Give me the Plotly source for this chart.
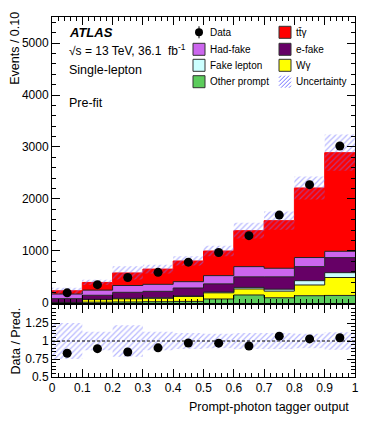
import numpy as np
import plotly.graph_objects as go
from plotly.subplots import make_subplots

# bins of the prompt-photon tagger output
bin_edges = [0.0, 0.1, 0.2, 0.3, 0.4, 0.5, 0.6, 0.7, 0.8, 0.9, 1.0]
bin_centers = [0.05, 0.15, 0.25, 0.35, 0.45, 0.55, 0.65, 0.75, 0.85, 0.95]

# stacked predictions (bottom to top)
other_prompt = [5, 15, 20, 25, 30, 77, 154, 100, 140, 145]
w_gamma = [3, 50, 60, 65, 95, 118, 116, 128, 206, 345]
fake_lepton = [4, 7, 10, 10, 10, 15, 30, 37, 83, 93]
e_fake = [71, 76, 115, 124, 153, 158, 203, 238, 270, 289]
had_fake = [89, 99, 131, 135, 122, 158, 196, 165, 175, 122]
ttgamma = [63, 148, 242, 293, 398, 474, 692, 915, 1338, 1897]

data = [195, 353, 490, 590, 785, 970, 1295, 1690, 2276, 3020]
rel_unc = [0.25, 0.13, 0.22, 0.13, 0.11, 0.10, 0.11, 0.11, 0.10, 0.12]

stack_names = ['Other prompt', 'Wγ', 'Fake lepton', 'e-fake', 'Had-fake', 'tt̄γ']
stack_values = [other_prompt, w_gamma, fake_lepton, e_fake, had_fake, ttgamma]
stack_colors = ['#5ccc5c', '#ffff00', '#ccffff', '#660066', '#cc66ee', '#ff0000']

y_ticks = [0, 1000, 2000, 3000, 4000, 5000]
ratio_ticks = [0.5, 0.75, 1, 1.25]
ratio_ticktext = ['0.5', '0.75', '1', '1.25']
x_ticks = [0, 0.1, 0.2, 0.3, 0.4, 0.5, 0.6, 0.7, 0.8, 0.9, 1]
x_ticktext = ['0', '0.1', '0.2', '0.3', '0.4', '0.5', '0.6', '0.7', '0.8', '0.9', '1']

FONT = 'Liberation Sans'
HATCH = '#6f6fff'
W, H = 374, 421
# the page body has an 8px margin, so the margins are shifted by it
PAGE_OFF = 8
PL, PR, PT, PB = 52, 355, 17, 377   # plot box in page pixels
ML, MT = PL - PAGE_OFF, PT - PAGE_OFF
MR, MB = W - (PR - PAGE_OFF), H - (PB - PAGE_OFF)


def step(vals):
    # repeat last value so 'hv' line reaches the right edge
    v = list(vals)
    return v + [v[-1]]


def px2paper(x, y):
    return (x - PL) / (PR - PL), (PB - y) / (PB - PT)


fig = make_subplots(rows=2, cols=1, shared_xaxes=True)

# === stacked histograms ===
cum = np.cumsum(np.array(stack_values), axis=0)
for i, (name, color) in enumerate(zip(stack_names, stack_colors)):
    fig.add_trace(go.Scatter(
        x=bin_edges, y=step(cum[i]), mode='lines', line_shape='hv',
        line=dict(color=color if i == len(stack_names) - 1 else '#222222', width=1),
        fill='tozeroy' if i == 0 else 'tonexty', fillcolor=color,
        name=name, showlegend=False, hoverinfo='skip'
    ), row=1, col=1)

total = cum[-1]
unc = np.array(rel_unc)
hatch = dict(shape='/', fgcolor=HATCH, bgcolor='rgba(0,0,0,0)', size=4, solidity=0.3)

# === uncertainty band (main) ===
fig.add_trace(go.Scatter(
    x=bin_edges, y=step(total * (1 - unc)), mode='lines', line_shape='hv',
    line=dict(width=0), showlegend=False, hoverinfo='skip'
), row=1, col=1)
fig.add_trace(go.Scatter(
    x=bin_edges, y=step(total * (1 + unc)), mode='lines', line_shape='hv',
    line=dict(width=0), fill='tonexty', fillcolor='rgba(0,0,0,0)', fillpattern=hatch,
    showlegend=False, hoverinfo='skip'
), row=1, col=1)

# === data ===
fig.add_trace(go.Scatter(
    x=bin_centers, y=data, mode='markers',
    marker=dict(color='black', size=9), showlegend=False
), row=1, col=1)

# === ratio panel ===
fig.add_trace(go.Scatter(
    x=bin_edges, y=step(1 - unc), mode='lines', line_shape='hv',
    line=dict(width=0), showlegend=False, hoverinfo='skip'
), row=2, col=1)
fig.add_trace(go.Scatter(
    x=bin_edges, y=step(1 + unc), mode='lines', line_shape='hv',
    line=dict(width=0), fill='tonexty', fillcolor='rgba(0,0,0,0)', fillpattern=hatch,
    showlegend=False, hoverinfo='skip'
), row=2, col=1)
fig.add_trace(go.Scatter(
    x=[bin_edges[0], bin_edges[-1]], y=[1, 1], mode='lines',
    line=dict(color='black', width=1, dash='3px,2px'), showlegend=False, hoverinfo='skip'
), row=2, col=1)
fig.add_trace(go.Scatter(
    x=bin_centers, y=np.array(data) / total, mode='markers',
    marker=dict(color='black', size=9), showlegend=False
), row=2, col=1)

# === axes ===
axis_common = dict(
    showline=True, linecolor='black', linewidth=1, mirror='allticks',
    ticks='inside', ticklen=8, tickcolor='black', showgrid=False, zeroline=False,
    tickfont=dict(family=FONT, size=12, color='black'), automargin=False,
)
fig.update_xaxes(**axis_common, range=[0, 1], tickvals=x_ticks, ticktext=x_ticktext,
                 minor=dict(ticks='inside', ticklen=4, dtick=0.02, tick0=0, tickcolor='black'))
fig.update_xaxes(showticklabels=False, row=1, col=1)
fig.update_yaxes(**axis_common)
fig.update_yaxes(range=[0, 5500], tickvals=y_ticks, tickformat='d',
                 minor=dict(ticks='inside', ticklen=4, dtick=200, tick0=0, tickcolor='black'),
                 domain=[0.2056, 1], row=1, col=1)
fig.update_yaxes(range=[0.5, 1.5], tickvals=ratio_ticks, ticktext=ratio_ticktext,
                 minor=dict(ticks='inside', ticklen=4, dtick=0.05, tick0=0.5, tickcolor='black'),
                 domain=[0, 0.2], row=2, col=1)

# === titles and labels ===
ytitle_x = px2paper(15.5, 0)[0]
annotations = [
    dict(text='Events / 0.10', x=ytitle_x, y=1.02, textangle=-90, xanchor='center', yanchor='top',
         font=dict(size=12.5)),
    dict(text='Data / Pred.', x=ytitle_x, y=0.1, textangle=-90, xanchor='center', yanchor='middle',
         font=dict(size=12.5)),
    dict(text='Prompt-photon tagger output', x=0.987, y=-0.0825, xanchor='right', yanchor='middle',
         font=dict(size=12.5)),
    dict(text='<b><i>ATLAS</i></b>', x=0.0495, y=0.9556, xanchor='left', yanchor='middle',
         font=dict(size=13)),
    dict(text='√s = 13 TeV, 36.1  fb<sup>-1</sup>', x=0.048, y=0.908, xanchor='left', yanchor='middle',
         font=dict(size=12)),
    dict(text='Single-lepton', x=0.048, y=0.853, xanchor='left', yanchor='middle',
         font=dict(size=12.5)),
    dict(text='Pre-fit', x=0.048, y=0.761, xanchor='left', yanchor='middle',
         font=dict(size=12.5)),
]

# === legend (drawn by hand, ROOT style) ===
legend_names = ['Data', 'tt̄γ', 'Had-fake', 'e-fake', 'Fake lepton', 'Wγ', 'Other prompt', 'Uncertainty']
legend_colors = [None, '#ff0000', '#cc66ee', '#660066', '#ccffff', '#ffff00', '#5ccc5c', None]
row_y = [32.3, 49.3, 65.3, 81.7]
col_box = [(193, 205), (279, 291)]
col_text = [208, 294]

shapes = []
for k, (name, color) in enumerate(zip(legend_names, legend_colors)):
    r, c = divmod(k, 2)
    yc = row_y[r]
    bx0, bx1 = col_box[c]
    px, py = px2paper(col_text[c], yc)
    annotations.append(dict(text=name, x=px, y=py, xanchor='left', yanchor='middle',
                            font=dict(size=10)))
    if name == 'Data':
        cx = (bx0 + bx1) / 2
        x0, y0 = px2paper(cx - 4, yc + 4)
        x1, y1 = px2paper(cx + 4, yc - 4)
        shapes.append(dict(type='circle', xref='paper', yref='paper', x0=x0, x1=x1, y0=y0, y1=y1,
                           fillcolor='black', line=dict(width=0)))
        x0, y0 = px2paper(cx, yc + 6)
        x1, y1 = px2paper(cx, yc - 6)
        shapes.append(dict(type='line', xref='paper', yref='paper', x0=x0, x1=x1, y0=y0, y1=y1,
                           line=dict(color='black', width=1)))
    elif name == 'Uncertainty':
        top, bot = yc - 6, yc + 6
        for off in range(-10, 12, 4):
            xa, ya = bx0 + off, bot
            xb, yb = xa + 12, top
            # clip to box
            if xa < bx0:
                ya -= bx0 - xa
                xa = bx0
            if xb > bx1:
                yb += xb - bx1
                xb = bx1
            if xb <= xa:
                continue
            x0, y0 = px2paper(xa, ya)
            x1, y1 = px2paper(xb, yb)
            shapes.append(dict(type='line', xref='paper', yref='paper', x0=x0, x1=x1, y0=y0, y1=y1,
                               line=dict(color=HATCH, width=1)))
    else:
        x0, y0 = px2paper(bx0, yc + 6)
        x1, y1 = px2paper(bx1, yc - 6)
        shapes.append(dict(type='rect', xref='paper', yref='paper', x0=x0, x1=x1, y0=y0, y1=y1,
                           fillcolor=color, line=dict(color='#333333', width=1)))

for a in annotations:
    a.update(xref='paper', yref='paper', showarrow=False)
    a['font'] = dict(family=FONT, color='black', **a['font'])

fig.update_layout(
    width=W, height=H,
    margin=dict(l=ML, r=MR, t=MT, b=MB),
    plot_bgcolor='white', paper_bgcolor='white',
    font=dict(family=FONT, color='black'),
    annotations=annotations, shapes=shapes,
    showlegend=False,
)

fig.write_html('out.html')
